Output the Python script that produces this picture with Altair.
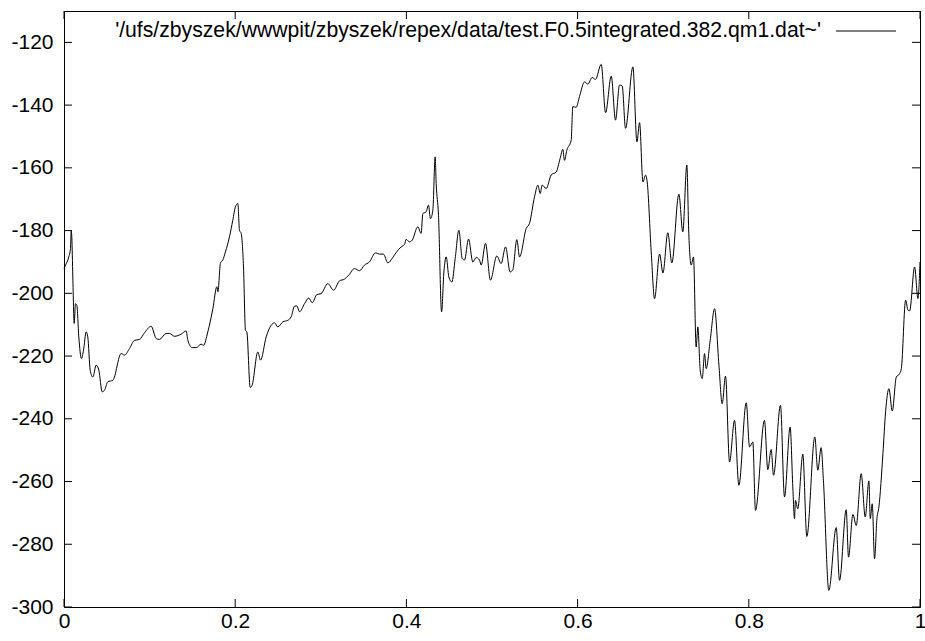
import altair as alt
import pandas as pd

# Integrated signal sampled along the normalised coordinate
x_vals = [
    0.0000, 0.0018, 0.0056, 0.0076, 0.0084, 0.0091, 0.0103, 0.0119, 0.0134, 0.0150,
    0.0173, 0.0204, 0.0228, 0.0259, 0.0278, 0.0306, 0.0337, 0.0376, 0.0407, 0.0446,
    0.0473, 0.0512, 0.0571, 0.0668, 0.0707, 0.0765, 0.0824, 0.0882, 0.0940, 0.1018,
    0.1077, 0.1116, 0.1193, 0.1233, 0.1291, 0.1369, 0.1427, 0.1447, 0.1497, 0.1544,
    0.1602, 0.1630, 0.1680, 0.1739, 0.1786, 0.1798, 0.1828, 0.1855, 0.1886, 0.1933,
    0.1972, 0.2003, 0.2031, 0.2050, 0.2070, 0.2097, 0.2120, 0.2136, 0.2175, 0.2198,
    0.2264, 0.2296, 0.2362, 0.2420, 0.2459, 0.2498, 0.2557, 0.2615, 0.2654, 0.2693,
    0.2720, 0.2751, 0.2810, 0.2860, 0.2899, 0.2954, 0.3004, 0.3082, 0.3149, 0.3219,
    0.3276, 0.3327, 0.3393, 0.3452, 0.3510, 0.3568, 0.3639, 0.3686, 0.3732, 0.3783,
    0.3841, 0.3880, 0.3939, 0.3978, 0.3997, 0.4036, 0.4067, 0.4133, 0.4172, 0.4192,
    0.4231, 0.4258, 0.4281, 0.4309, 0.4336, 0.4348, 0.4375, 0.4411, 0.4438, 0.4465,
    0.4496, 0.4531, 0.4570, 0.4613, 0.4652, 0.4679, 0.4726, 0.4776, 0.4815, 0.4854,
    0.4874, 0.4924, 0.4982, 0.5056, 0.5107, 0.5158, 0.5212, 0.5244, 0.5290, 0.5322,
    0.5400, 0.5438, 0.5497, 0.5536, 0.5563, 0.5586, 0.5633, 0.5691, 0.5750, 0.5796,
    0.5827, 0.5847, 0.5874, 0.5925, 0.5944, 0.5983, 0.6022, 0.6081, 0.6120, 0.6170,
    0.6209, 0.6276, 0.6327, 0.6393, 0.6443, 0.6490, 0.6521, 0.6560, 0.6646, 0.6693,
    0.6724, 0.6763, 0.6794, 0.6813, 0.6860, 0.6899, 0.6958, 0.6997, 0.7054, 0.7101,
    0.7183, 0.7229, 0.7276, 0.7299, 0.7327, 0.7354, 0.7385, 0.7405, 0.7432, 0.7456,
    0.7483, 0.7502, 0.7549, 0.7600, 0.7651, 0.7689, 0.7728, 0.7775, 0.7833, 0.7884,
    0.7970, 0.8009, 0.8047, 0.8078, 0.8183, 0.8222, 0.8261, 0.8289, 0.8370, 0.8417,
    0.8483, 0.8514, 0.8534, 0.8545, 0.8572, 0.8631, 0.8678, 0.8771, 0.8806, 0.8845,
    0.8872, 0.8935, 0.9021, 0.9060, 0.9138, 0.9165, 0.9216, 0.9255, 0.9313, 0.9360,
    0.9403, 0.9419, 0.9442, 0.9469, 0.9497, 0.9520, 0.9567, 0.9598, 0.9637, 0.9676,
    0.9723, 0.9762, 0.9782, 0.9832, 0.9860, 0.9879, 0.9937, 0.9976, 1.0000,
]
y_vals = [
    -192.1, -191.0, -188.4, -185.7, -180.1, -182.0, -194.8, -209.6, -203.3, -203.8,
    -213.9, -220.8, -218.1, -212.3, -213.9, -224.5, -226.7, -222.9, -224.5, -231.4,
    -230.9, -228.2, -227.7, -219.2, -219.7, -217.6, -215.0, -214.7, -212.6, -210.5,
    -214.4, -214.7, -212.8, -212.8, -213.7, -213.0, -212.0, -215.0, -217.3, -217.3,
    -216.2, -216.6, -212.3, -204.9, -197.9, -199.5, -190.3, -189.4, -186.8, -182.0,
    -176.7, -172.4, -171.4, -179.9, -180.9, -191.6, -211.8, -212.3, -230.0, -229.3,
    -218.7, -221.3, -213.9, -210.2, -209.4, -210.7, -209.1, -208.6, -207.5, -204.1,
    -204.0, -205.9, -203.3, -201.5, -203.0, -200.4, -200.1, -196.9, -199.0, -196.0,
    -195.5, -194.2, -192.1, -192.8, -191.0, -190.0, -187.1, -187.5, -187.5, -190.3,
    -188.6, -187.0, -185.2, -184.4, -182.8, -183.6, -183.1, -178.8, -180.9, -174.6,
    -174.0, -171.9, -176.2, -173.5, -156.5, -165.0, -175.1, -205.9, -193.2, -188.4,
    -194.8, -196.4, -188.9, -179.9, -188.9, -189.4, -182.7, -190.0, -188.6, -189.4,
    -191.0, -184.1, -195.8, -188.1, -190.5, -185.2, -193.2, -192.4, -182.9, -188.4,
    -179.3, -177.7, -169.2, -165.5, -168.2, -165.5, -166.6, -162.3, -161.3, -157.0,
    -154.1, -157.6, -154.4, -151.2, -140.5, -140.7, -137.3, -132.6, -133.3, -131.2,
    -131.8, -127.0, -142.4, -130.8, -144.8, -133.6, -133.9, -147.4, -127.8, -151.7,
    -145.6, -164.5, -162.3, -164.5, -186.8, -201.7, -187.5, -193.5, -180.7, -190.3,
    -168.4, -180.4, -159.1, -180.9, -191.0, -188.4, -217.1, -210.7, -224.5, -227.2,
    -219.2, -224.0, -215.0, -204.9, -222.9, -235.2, -226.4, -253.8, -240.5, -261.2,
    -234.9, -249.0, -247.4, -269.2, -240.5, -256.2, -249.8, -258.0, -235.7, -264.9,
    -242.6, -261.7, -271.8, -266.0, -268.7, -251.3, -277.5, -245.8, -256.4, -249.2,
    -259.8, -294.7, -274.7, -291.5, -269.0, -284.1, -270.5, -274.0, -257.5, -271.3,
    -259.8, -271.8, -267.1, -284.6, -271.8, -268.1, -251.1, -237.8, -230.4, -237.5,
    -226.7, -225.6, -224.0, -202.2, -205.4, -205.6, -191.6, -201.7, -190.0,
]

x_ticks = [0, 0.2, 0.4, 0.6, 0.8, 1]
y_ticks = [-120, -140, -160, -180, -200, -220, -240, -260, -280, -300]
key_label = "'/ufs/zbyszek/wwwpit/zbyszek/repex/data/test.F0.5integrated.382.qm1.dat~'"

W, H = 856, 596
TICK = 8
FONT = "Liberation Sans"
FS = 21

series = pd.DataFrame({"x": x_vals, "y": y_vals})
xt = pd.DataFrame({"x": x_ticks})
yt = pd.DataFrame({"y": y_ticks})
key = pd.DataFrame({"label": [key_label]})

xs = alt.Scale(domain=[0, 1], nice=False, zero=False)
ys = alt.Scale(domain=[-300, -110], nice=False, zero=False)

# plain ASCII labels (hyphen-minus, shortest decimal form)
x_axis = alt.Axis(
    values=x_ticks, labelExpr="'' + datum.value", ticks=False, domain=False,
    grid=False, title=None, labelFont=FONT, labelFontSize=FS, labelColor="black",
    labelPadding=3, labelFlush=False)
y_axis = alt.Axis(
    values=y_ticks, labelExpr="'' + datum.value", ticks=False, domain=False,
    grid=False, title=None, labelFont=FONT, labelFontSize=FS, labelColor="black",
    labelPadding=11, labelFlush=False)

line = alt.Chart(series).mark_line(
    color="black", strokeWidth=1, interpolate="monotone"
).encode(
    x=alt.X("x:Q", scale=xs, axis=x_axis),
    y=alt.Y("y:Q", scale=ys, axis=y_axis),
)

# inward ticks on all four sides of the frame
tick_style = dict(color="black", strokeWidth=1)
x_bottom = alt.Chart(xt).mark_rule(**tick_style).encode(
    x=alt.X("x:Q", scale=xs, axis=x_axis), y=alt.value(H), y2=alt.value(H - TICK))
x_top = alt.Chart(xt).mark_rule(**tick_style).encode(
    x=alt.X("x:Q", scale=xs, axis=x_axis), y=alt.value(0), y2=alt.value(TICK))
y_left = alt.Chart(yt).mark_rule(**tick_style).encode(
    y=alt.Y("y:Q", scale=ys, axis=y_axis), x=alt.value(0), x2=alt.value(TICK))
y_right = alt.Chart(yt).mark_rule(**tick_style).encode(
    y=alt.Y("y:Q", scale=ys, axis=y_axis), x=alt.value(W), x2=alt.value(W - TICK))

# key entry in the top-right corner
key_text = alt.Chart(key).mark_text(
    align="right", baseline="middle", font=FONT, fontSize=21.2, color="black"
).encode(text="label:N", x=alt.value(757), y=alt.value(20))
key_line = alt.Chart(key).mark_rule(color="black", strokeWidth=1).encode(
    x=alt.value(772), x2=alt.value(832), y=alt.value(20))

chart = alt.layer(line, x_bottom, x_top, y_left, y_right, key_text, key_line).properties(
    width=W, height=H,
    autosize=alt.AutoSizeParams(type="none"),
    padding={"left": 64, "top": 11, "right": 5, "bottom": 34},
    background="white",
).configure_view(stroke="black", strokeWidth=1)

chart.save("out.html", embed_options={"renderer": "svg", "actions": False})
